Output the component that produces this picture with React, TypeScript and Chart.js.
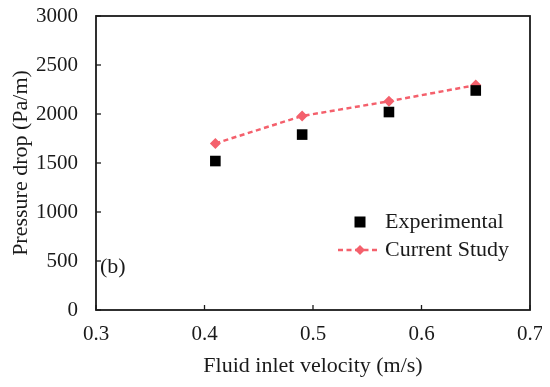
import React, { useEffect, useRef } from "react";
import { Chart, registerables } from "chart.js";

Chart.register(...registerables);

const velocities = [0.41, 0.49, 0.57, 0.65];
const experimental = [1520, 1790, 2020, 2240];
const currentStudy = [1700, 1980, 2130, 2295];
const xTicks = [0.3, 0.4, 0.5, 0.6, 0.7];
const yTicks = [0, 500, 1000, 1500, 2000, 2500, 3000];
const seriesNames = ["Experimental", "Current Study"];
const panelLabel = "(b)";

const FONT = "'Liberation Serif', 'Times New Roman', serif";
const PINK = "#F4606C";
const INK = "#1a1a1a";

const framePlugin = {
  id: "frameTicks",
  afterDraw(chart: any) {
    const { ctx, chartArea, scales } = chart;
    const { left, right, top, bottom } = chartArea;
    ctx.save();
    ctx.strokeStyle = INK;
    ctx.lineWidth = 1.8;
    ctx.strokeRect(left, top, right - left, bottom - top);
    ctx.lineWidth = 1.3;
    xTicks.forEach((v) => {
      const x = scales.x.getPixelForValue(v);
      ctx.beginPath();
      ctx.moveTo(x, bottom);
      ctx.lineTo(x, bottom - 5);
      ctx.stroke();
    });
    yTicks.forEach((v) => {
      const y = scales.y.getPixelForValue(v);
      ctx.beginPath();
      ctx.moveTo(left, y);
      ctx.lineTo(left + 5, y);
      ctx.stroke();
    });
    ctx.fillStyle = INK;
    ctx.font = `22px ${FONT}`;
    ctx.textBaseline = "middle";
    ctx.textAlign = "left";
    ctx.fillText(panelLabel, left + 4, scales.y.getPixelForValue(439));
    // legend
    const lx = left + 264;
    const ly1 = scales.y.getPixelForValue(898);
    const ly2 = scales.y.getPixelForValue(612);
    ctx.fillStyle = "#000";
    ctx.fillRect(lx - 5.5, ly1 - 5.5, 11, 11);
    ctx.strokeStyle = PINK;
    ctx.lineWidth = 2.5;
    ctx.setLineDash([5, 3.5]);
    ctx.beginPath();
    ctx.moveTo(lx - 22, ly2);
    ctx.lineTo(lx + 17, ly2);
    ctx.stroke();
    ctx.setLineDash([]);
    ctx.fillStyle = PINK;
    ctx.beginPath();
    ctx.moveTo(lx, ly2 - 5);
    ctx.lineTo(lx + 5, ly2);
    ctx.lineTo(lx, ly2 + 5);
    ctx.lineTo(lx - 5, ly2);
    ctx.closePath();
    ctx.fill();
    ctx.fillStyle = INK;
    ctx.font = `22px ${FONT}`;
    ctx.fillText(seriesNames[0], lx + 25, ly1);
    ctx.fillText(seriesNames[1], lx + 25, ly2);
    ctx.restore();
  },
};

export default function App() {
  const ref = useRef<HTMLCanvasElement>(null);
  useEffect(() => {
    if (!ref.current) return;
    const chart = new Chart(ref.current, {
      type: "scatter",
      data: {
        datasets: [
          {
            label: seriesNames[0],
            data: velocities.map((x, i) => ({ x, y: experimental[i] })),
            pointStyle: "rect",
            pointRadius: 7.5,
            pointBackgroundColor: "#000",
            pointBorderColor: "#000",
            pointBorderWidth: 0,
            showLine: false,
          },
          {
            label: seriesNames[1],
            data: velocities.map((x, i) => ({ x, y: currentStudy[i] })),
            pointStyle: "rectRot",
            pointRadius: 5.5,
            pointBackgroundColor: PINK,
            pointBorderColor: PINK,
            pointBorderWidth: 0,
            showLine: true,
            borderColor: PINK,
            borderWidth: 2.5,
            borderDash: [5, 3.5],
          },
        ],
      },
      options: {
        animation: false,
        responsive: false,
        layout: { padding: { top: 8, right: 12, left: 0, bottom: 0 } },
        plugins: { legend: { display: false }, tooltip: { enabled: false } },
        scales: {
          x: {
            type: "linear",
            min: 0.3,
            max: 0.7,
            afterBuildTicks: (s: any) => {
              s.ticks = xTicks.map((v) => ({ value: v }));
            },
            afterFit: (s: any) => {
              s.height = 69;
              s.paddingLeft = 0;
              s.paddingRight = 0;
            },
            grid: { display: false, drawTicks: false },
            border: { display: false },
            ticks: {
              padding: 12,
              color: INK,
              font: { family: FONT, size: 21 },
              callback: (v: any) => Number(v).toFixed(1),
            },
            title: {
              display: true,
              text: "Fluid inlet velocity (m/s)",
              color: INK,
              font: { family: FONT, size: 22 },
              padding: { top: 2, bottom: 0 },
            },
          },
          y: {
            type: "linear",
            min: 0,
            max: 3000,
            afterBuildTicks: (s: any) => {
              s.ticks = yTicks.map((v) => ({ value: v }));
            },
            afterFit: (s: any) => {
              s.width = 88;
              s.paddingTop = 0;
              s.paddingBottom = 0;
            },
            grid: { display: false, drawTicks: false },
            border: { display: false },
            ticks: {
              padding: 18,
              color: INK,
              font: { family: FONT, size: 21 },
              callback: (v: any) => String(v),
            },
            title: {
              display: true,
              text: "Pressure drop (Pa/m)",
              color: INK,
              font: { family: FONT, size: 22 },
              padding: { top: 0, bottom: 2 },
            },
          },
        },
      },
      plugins: [framePlugin],
    });
    return () => chart.destroy();
  }, []);
  return <canvas ref={ref} width={534} height={371} style={{ display: "block" }} />;
}
